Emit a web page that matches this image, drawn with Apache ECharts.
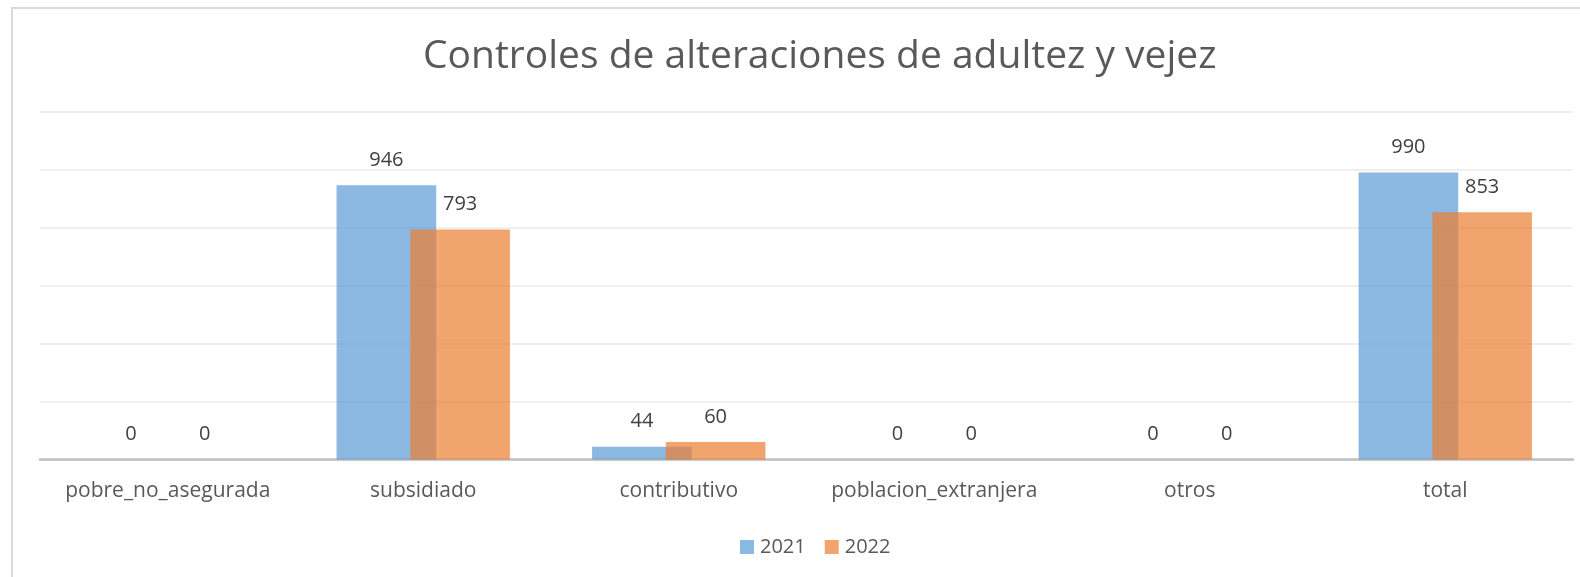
<!DOCTYPE html>
<html>
<head>
<meta charset="utf-8">
<script src="https://cdn.jsdelivr.net/npm/echarts@6/dist/echarts.min.js"></script>
<style>
html,body{margin:0;padding:0;background:#fff;}
#chart{width:1580px;height:577px;}
</style>
</head>
<body>
<div id="chart"></div>
<script>
const titleText = 'Controles de alteraciones de adultez y vejez';
const categories = ['pobre_no_asegurada', 'subsidiado', 'contributivo', 'poblacion_extranjera', 'otros', 'total'];
const seriesNames = ['2021', '2022'];
const values2021 = [0, 946, 44, 0, 0, 990];
const values2022 = [0, 793, 60, 0, 0, 853];

const chart = echarts.init(document.getElementById('chart'));
const font = 'Open Sans';
const labelStyle = {
  show: true, position: 'top', distance: 15,
  color: '#404040', fontSize: 20, fontFamily: font
};
chart.setOption({
  animation: false,
  backgroundColor: '#ffffff',
  title: {
    text: titleText, left: 418, top: 32,
    textStyle: { color: '#595959', fontSize: 39, fontWeight: 'normal', fontFamily: font }
  },
  legend: {
    data: seriesNames, left: 735, top: 532,
    itemWidth: 14, itemHeight: 14, itemGap: 19,
    icon: 'rect',
    textStyle: { color: '#595959', fontSize: 20, fontFamily: font, padding: [0,0,0,1] }
  },
  grid: { left: 40, right: 7, top: 111.5, bottom: 117.5, containLabel: false },
  xAxis: {
    type: 'category', data: categories,
    axisLine: { show: true, lineStyle: { color: '#BFBFBF', width: 2.5 } },
    axisTick: { show: false },
    axisLabel: { color: '#595959', fontSize: 21, fontFamily: font, margin: 21, interval: 0, hideOverlap: false }
  },
  yAxis: {
    type: 'value', min: 0, max: 1200, interval: 200,
    axisLabel: { show: false }, axisLine: { show: false }, axisTick: { show: false },
    splitLine: { lineStyle: { color: '#EFEFEF', width: 2 } }
  },
  series: [
    { name: seriesNames[0], type: 'bar', data: values2021, barWidth: '39%', barGap: '-26%',
      itemStyle: { color: 'rgba(91,155,213,0.7)' }, label: labelStyle },
    { name: seriesNames[1], type: 'bar', data: values2022, barWidth: '39%', barGap: '-26%',
      itemStyle: { color: 'rgba(237,125,49,0.7)' }, label: labelStyle }
  ],
  graphic: [{
    type: 'polyline', silent: true,
    shape: { points: [[12, 577], [12, 8], [1580, 8]] },
    style: { stroke: '#D9D9D9', lineWidth: 2, fill: null }
  }]
});
</script>
</body>
</html>
